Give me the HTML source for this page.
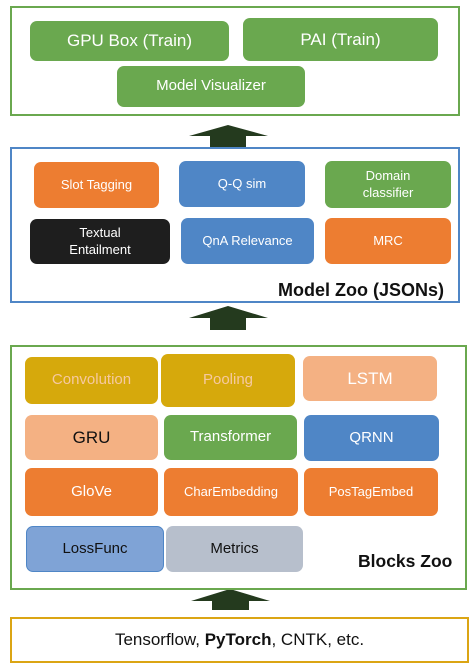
<!DOCTYPE html>
<html><head><style>
body{margin:0;width:473px;height:670px;background:#fff;position:relative;font-family:"Liberation Sans",sans-serif;overflow:hidden}
.b{position:absolute;box-sizing:border-box}
.n{position:absolute;box-sizing:border-box;border-radius:7px;color:#fff;display:flex;align-items:center;justify-content:center;text-align:center;line-height:1.25}
.g{background:#6aa84f}.o{background:#ed7d31}.bl{background:#4f86c6}.y{background:#d6a90c}.p{background:#f4b183}.gr{background:#b7bfcc}
.lab{position:absolute;font-weight:bold;color:#111}
</style></head><body>
<div class="b" style="left:10px;top:6px;width:450px;height:110px;border:2px solid #6aa84f"></div>
<div class="n g" style="left:30px;top:21px;width:199px;height:40px;font-size:17px">GPU Box (Train)</div>
<div class="n g" style="left:243px;top:18px;width:195px;height:43px;font-size:17px">PAI (Train)</div>
<div class="n g" style="left:117px;top:66px;width:188px;height:41px;font-size:15px">Model Visualizer</div>

<svg class="b" style="left:0;top:0" width="473" height="670">
<polygon points="228,125 268,136 246,136 246,147 210,147 210,136 189,136" fill="#243a1e"/>
<polygon points="228,306 268,318 246,318 246,330 210,330 210,318 189,318" fill="#243a1e"/>
<polygon points="230,589 270,601 249,601 249,610 212,610 212,601 191,601" fill="#243a1e"/>
</svg>

<div class="b" style="left:10px;top:147px;width:450px;height:156px;border:2px solid #4f86c6"></div>
<div class="n o" style="left:34px;top:162px;width:125px;height:46px;font-size:13px">Slot Tagging</div>
<div class="n bl" style="left:179px;top:161px;width:126px;height:46px;font-size:13px">Q-Q sim</div>
<div class="n g" style="left:325px;top:161px;width:126px;height:47px;font-size:13px">Domain<br>classifier</div>
<div class="n" style="left:30px;top:219px;width:140px;height:45px;font-size:13px;background:#1e1e1e">Textual<br>Entailment</div>
<div class="n bl" style="left:181px;top:218px;width:133px;height:46px;font-size:13px">QnA Relevance</div>
<div class="n o" style="left:325px;top:218px;width:126px;height:46px;font-size:13px">MRC</div>
<div class="lab" style="left:278px;top:280px;font-size:18px">Model Zoo (JSONs)</div>

<div class="b" style="left:10px;top:345px;width:457px;height:245px;border:2px solid #6aa84f"></div>
<div class="n y" style="left:25px;top:357px;width:133px;height:47px;font-size:15px;color:#f6c9a0">Convolution</div>
<div class="n y" style="left:161px;top:354px;width:134px;height:53px;font-size:15px;color:#f6c9a0">Pooling</div>
<div class="n p" style="left:303px;top:356px;width:134px;height:45px;font-size:17px">LSTM</div>
<div class="n p" style="left:25px;top:415px;width:133px;height:45px;font-size:17px;color:#111">GRU</div>
<div class="n g" style="left:164px;top:415px;width:133px;height:45px;font-size:15px">Transformer</div>
<div class="n bl" style="left:304px;top:415px;width:135px;height:46px;font-size:15px">QRNN</div>
<div class="n o" style="left:25px;top:468px;width:133px;height:48px;font-size:15px">GloVe</div>
<div class="n o" style="left:164px;top:468px;width:134px;height:48px;font-size:13px">CharEmbedding</div>
<div class="n o" style="left:304px;top:468px;width:134px;height:48px;font-size:13px">PosTagEmbed</div>
<div class="n" style="left:26px;top:526px;width:138px;height:46px;font-size:15px;background:#7fa3d6;color:#111;border:1px solid #4f86c6">LossFunc</div>
<div class="n gr" style="left:166px;top:526px;width:137px;height:46px;font-size:15px;color:#111">Metrics</div>
<div class="lab" style="left:358px;top:551px;font-size:17.5px">Blocks Zoo</div>

<div class="b" style="left:10px;top:617px;width:459px;height:46px;border:2px solid #dba514;display:flex;align-items:center;justify-content:center;font-size:17px;color:#111">Tensorflow,&nbsp;<b>PyTorch</b>, CNTK, etc.</div>
</body></html>
